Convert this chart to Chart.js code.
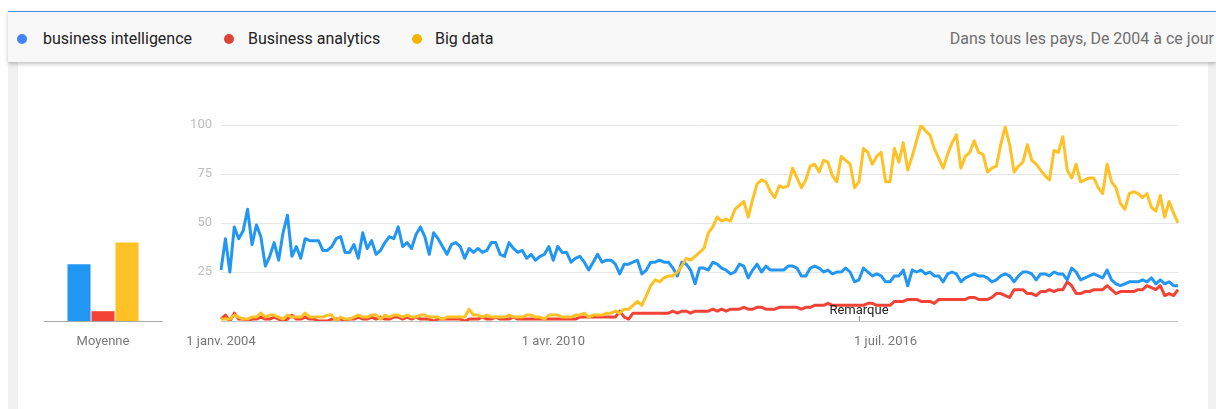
<!DOCTYPE html>
<html>
<head>
<meta charset="utf-8">
<script src="https://cdn.jsdelivr.net/npm/chart.js@4/dist/chart.umd.min.js"></script>
<style>
  body { margin: 0; width: 1216px; height: 409px; background: #fff; font-family: Roboto, sans-serif; overflow: hidden; position: relative; }
  #outer { position: absolute; left: 8px; top: 62px; right: 0; bottom: 0; background: #f1f1f1; }
  #card { position: absolute; left: 18px; top: 62px; width: 1190px; bottom: 0; background: #fff; }
  #head { position: absolute; left: 8px; top: 11px; right: 0; height: 50px; background: #f8f8f8; border-top: 1px solid #4a8ef0; box-shadow: 0 2px 4px rgba(0,0,0,.25); }
  .dot { position: absolute; top: 34px; width: 10px; height: 10px; border-radius: 50%; }
  .lab { position: absolute; top: 29px; font-size: 16px; color: #222; line-height: 20px; white-space: nowrap; }
  #scope { position: absolute; top: 29px; right: 2px; font-size: 16px; color: #6f6f6f; line-height: 20px; white-space: nowrap; }
  canvas { position: absolute; }
</style>
</head>
<body>
<div id="outer"></div>
<div id="card"></div>
<div id="head"></div>
<div class="dot" style="left:17px;background:#4285f4"></div>
<div class="lab" style="left:43px">business intelligence</div>
<div class="dot" style="left:224px;background:#db4437"></div>
<div class="lab" style="left:248px">Business analytics</div>
<div class="dot" style="left:412px;background:#f4b400"></div>
<div class="lab" style="left:435px">Big data</div>
<div id="scope">Dans tous les pays, De 2004 à ce jour</div>

<canvas id="avg" width="150" height="260" style="left:30px;top:100px"></canvas>
<canvas id="trend" width="1030" height="260" style="left:170px;top:100px"></canvas>

<script>
// search terms and colours
const terms = ["business intelligence", "Business analytics", "Big data"];
const colors = ["#2196f3", "#f44336", "#ffc125"];

// averages shown in the small bar chart
const averages = [29, 5, 40];
const avgLabel = "Moyenne";

// monthly categories, janv. 2004 .. janv. 2022
const monthNames = ["janv.", "févr.", "mars", "avr.", "mai", "juin", "juil.", "août", "sept.", "oct.", "nov.", "déc."];
const years = [2004, 2005, 2006, 2007, 2008, 2009, 2010, 2011, 2012, 2013, 2014, 2015, 2016, 2017, 2018, 2019, 2020, 2021, 2022];
const tickLabels = ["1 janv. 2004", "1 avr. 2010", "1 juil. 2016"];
const noteLabel = "1 janv. 2016";
const noteText = "Remarque";

const businessIntelligence = [
  26, 42, 25, 48, 42, 46, 57, 39, 49, 43,
  28, 33, 40, 31, 45, 54, 33, 38, 32, 42,
  41, 41, 41, 36, 36, 38, 42, 43, 35, 35,
  39, 32, 45, 37, 41, 34, 36, 40, 43, 42,
  48, 38, 40, 37, 44, 48, 43, 34, 45, 42,
  38, 34, 39, 40, 38, 32, 37, 35, 37, 35,
  36, 40, 40, 34, 33, 40, 37, 35,
  36, 32, 34, 31, 33, 34, 38, 31, 38, 35, 35, 30,
  32, 33, 30, 26, 30, 34, 30, 31, 31, 29,
  24, 29, 29, 30, 31, 24, 26, 30, 30, 31,
  30, 30, 27, 23, 30, 29, 26, 19, 27, 27,
  26, 30, 29, 27, 26, 24, 25, 29, 28, 22,
  26, 29, 25, 28, 26, 26, 26, 26, 28, 28,
  27, 23, 23, 27, 28, 27, 25, 26, 24, 25,
  25, 27, 25, 20, 21, 27, 25, 23, 24, 23,
  20, 20, 23, 23, 26, 18, 26, 25, 26, 24,
  25, 23, 23, 20, 24, 25, 24, 20, 22, 23,
  24, 23, 23, 22, 20, 21, 23, 24, 23, 20,
  23, 25, 25, 24, 21, 24, 24, 23, 25, 24,
  24, 21, 27, 25, 21, 22, 23, 24, 23, 22,
  26, 21, 19, 18, 19, 20, 20, 20, 21, 20,
  22, 19, 21, 19, 20, 18, 18
];

const businessAnalytics = [
  1, 3, 0, 4, 1, 1, 0, 1, 1, 2,
  1, 1, 2, 1, 0, 1, 3, 1, 1, 2,
  1, 1, 0, 0, 0, 1, 1, 1, 0, 1,
  1, 2, 1, 1, 2, 1, 2, 1, 1, 2,
  2, 1, 2, 1, 2, 1, 1, 1, 0, 1,
  1, 1, 1, 1, 1, 0, 1, 1, 1, 2,
  1, 1, 2, 1, 1, 1, 2, 1,
  1, 1, 1, 1, 1, 1, 1, 1, 1, 1, 1, 1,
  1, 2, 2, 2, 2, 2, 2, 2, 2, 2,
  5, 2, 1, 4, 4, 4, 4, 4, 4, 4,
  4, 4, 5, 4, 5, 5, 4, 5, 5, 5,
  5, 6, 5, 6, 5, 6, 6, 6, 7, 6,
  6, 7, 7, 6, 6, 6, 7, 7, 7, 7,
  7, 6, 7, 7, 8, 8, 8, 9, 8, 8,
  8, 8, 8, 8, 8, 8, 9, 9, 8, 8,
  8, 8, 10, 10, 10, 11, 11, 11, 10, 10,
  10, 9, 11, 11, 11, 11, 11, 11, 11, 12,
  12, 11, 11, 11, 12, 14, 14, 13, 12, 16,
  16, 16, 14, 14, 13, 15, 15, 16, 15, 16,
  16, 20, 18, 14, 14, 15, 15, 16, 16, 16,
  18, 16, 14, 15, 15, 15, 15, 16, 16, 18,
  17, 16, 18, 13, 14, 13, 16
];

const bigData = [
  1, 1, 1, 3, 2, 1, 1, 2, 2, 4,
  2, 3, 3, 2, 1, 3, 2, 2, 2, 4,
  2, 2, 2, 2, 3, 3, 0, 2, 1, 1,
  2, 3, 2, 2, 3, 3, 1, 3, 2, 3,
  3, 2, 3, 2, 2, 3, 3, 2, 2, 2,
  1, 2, 2, 2, 2, 2, 6, 3, 3, 2,
  3, 2, 2, 2, 2, 3, 2, 2,
  2, 3, 3, 2, 2, 1, 3, 3, 3, 2, 2, 2,
  3, 3, 4, 2, 3, 3, 3, 4, 4, 5,
  4, 6, 6, 8, 10, 8, 13, 18, 21, 20,
  22, 23, 23, 25, 28, 32, 31, 33, 35, 37,
  45, 48, 53, 51, 52, 51, 57, 59, 61, 53,
  62, 70, 72, 71, 66, 63, 69, 68, 69, 78,
  73, 68, 72, 79, 80, 76, 82, 81, 74, 71,
  84, 82, 80, 68, 71, 88, 86, 80, 84, 86,
  71, 71, 88, 81, 91, 77, 84, 92, 100, 97,
  95, 88, 83, 78, 85, 91, 95, 78, 84, 86,
  92, 86, 85, 76, 78, 79, 90, 99, 90, 76,
  79, 81, 90, 82, 80, 77, 74, 72, 87, 86,
  94, 77, 73, 80, 71, 72, 73, 73, 68, 65,
  80, 71, 68, 60, 57, 65, 66, 65, 63, 65,
  58, 56, 64, 53, 61, 55, 50
];

const series = [businessIntelligence, businessAnalytics, bigData];

let labels = [];
years.forEach(y => monthNames.forEach(m => labels.push("1 " + m + " " + y)));
labels = labels.slice(0, bigData.length);

const font = { family: "Roboto", size: 13 };

// small "Moyenne" bar chart
new Chart(document.getElementById("avg"), {
  type: "bar",
  data: {
    labels: [avgLabel],
    datasets: terms.map((t, i) => ({
      label: t,
      data: [averages[i]],
      backgroundColor: colors[i],
      borderWidth: 0,
      categoryPercentage: 0.61,
      barPercentage: 0.96
    }))
  },
  options: {
    responsive: false,
    animation: false,
    layout: { padding: { left: 14, right: 18, top: 25, bottom: 0 } },
    plugins: { legend: { display: false }, tooltip: { enabled: false } },
    scales: {
      x: {
        grid: { display: false },
        border: { display: true, color: "#a8a8a8", width: 1 },
        ticks: { color: "#777", font: font, padding: 5 },
        afterFit: s => { s.height = 39; }
      },
      y: { display: false, min: 0, max: 100 }
    }
  }
});

// "Remarque" marker on the time axis
const notePlugin = {
  id: "note",
  afterDatasetsDraw(chart) {
    const ctx = chart.ctx;
    const i = chart.data.labels.indexOf(noteLabel);
    const x = chart.scales.x.getPixelForValue(i);
    const b = chart.chartArea.bottom;
    ctx.save();
    ctx.strokeStyle = "#999";
    ctx.lineWidth = 1;
    ctx.beginPath();
    ctx.moveTo(Math.round(x) + 0.5, b - 5);
    ctx.lineTo(Math.round(x) + 0.5, b);
    ctx.stroke();
    ctx.fillStyle = "#222";
    ctx.font = "13px Roboto";
    ctx.textAlign = "center";
    ctx.textBaseline = "alphabetic";
    ctx.fillText(noteText, x, b - 7);
    ctx.restore();
  }
};

// main line chart
new Chart(document.getElementById("trend"), {
  type: "line",
  data: {
    labels: labels,
    datasets: terms.map((t, i) => ({
      label: t,
      data: series[i],
      borderColor: colors[i],
      borderWidth: 3,
      fill: false,
      order: [1, 2, 0][i]
    }))
  },
  options: {
    responsive: false,
    animation: false,
    layout: { padding: { left: 0, right: 22, top: 25, bottom: 0 } },
    elements: { point: { radius: 0 }, line: { tension: 0, borderJoinStyle: "round" } },
    plugins: { legend: { display: false }, tooltip: { enabled: false } },
    scales: {
      x: {
        grid: { display: false },
        border: { display: false },
        ticks: {
          autoSkip: false,
          maxRotation: 0,
          minRotation: 0,
          padding: 5,
          color: "#777",
          font: font,
          callback: function (v) {
            const l = this.getLabelForValue(v);
            return tickLabels.includes(l) ? l : "";
          }
        },
        afterFit: s => { s.height = 39; }
      },
      y: {
        min: 0,
        max: 100,
        border: { display: false },
        grid: { drawTicks: false, color: c => c.tick.value === 0 ? "#c4c4c4" : "#e6e6e6" },
        ticks: { stepSize: 25, padding: 9, color: "#bdbdbd", font: font, callback: v => v === 0 ? "" : v },
        afterFit: s => { s.width = 51; }
      }
    }
  },
  plugins: [notePlugin]
});
</script>
</body>
</html>
